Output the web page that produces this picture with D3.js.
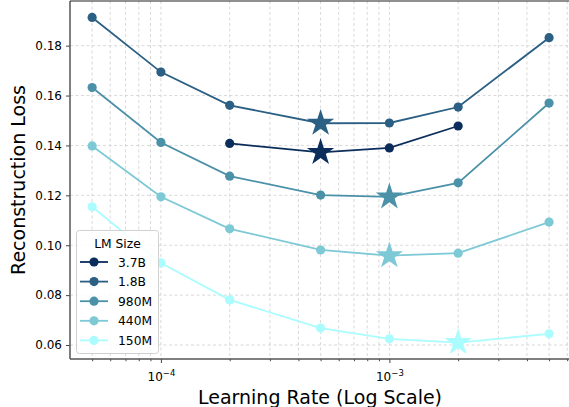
<!DOCTYPE html>
<html><head><meta charset="utf-8">
<script src="https://cdn.jsdelivr.net/npm/d3@7"></script>
<style>body{margin:0;background:#fff}svg{display:block}</style>
</head><body><svg id="c" width="569" height="407"></svg>
<script>
const learningRates = [5e-5, 1e-4, 2e-4, 5e-4, 1e-3, 2e-3, 5e-3];
const seriesNames = ["3.7B", "1.8B", "980M", "440M", "150M"];
const seriesColors = ["#0b2d5b", "#2b5f83", "#4b91a8", "#7dc9d5", "#aafcfe"];
const loss37B = [null, null, 0.1408, 0.1372, 0.1390, 0.1478, null];
const loss18B = [0.1913, 0.1694, 0.1561, 0.1489, 0.1490, 0.1554, 0.1832];
const loss980M = [0.1632, 0.1412, 0.1277, 0.1201, 0.1194, 0.1250, 0.1570];
const loss440M = [0.1398, 0.1194, 0.1066, 0.0981, 0.0958, 0.0968, 0.1093];
const loss150M = [0.1154, 0.0929, 0.0781, 0.0668, 0.0625, 0.0610, 0.0645];
const bestIndex = [3, 3, 4, 4, 5];
const yTicks = [0.06, 0.08, 0.10, 0.12, 0.14, 0.16, 0.18];
const xMajorTicks = [1e-4, 1e-3];

const FONT = "DejaVu Sans";
const allLoss = [loss37B, loss18B, loss980M, loss440M, loss150M];
const svg = d3.select("#c");
const L = 70, R = 572, T = 1, B = 359;
const x = d3.scaleLog().domain([4.0e-5, 6.3e-3]).range([L, R]);
const y = d3.scaleLinear().domain([0.0544, 0.1979]).range([B, T]);

const minorX = [];
for (let e = -5; e <= -2; e++) for (let m = 2; m <= 9; m++) { const v = m * Math.pow(10, e); if (v > 4.0e-5 && v < 6.3e-3) minorX.push(v); }

const grid = svg.append("g").attr("stroke", "#cfcfcf").attr("stroke-width", 0.8).attr("stroke-dasharray", "3,2.5");
grid.selectAll(".vx").data(minorX.concat(xMajorTicks)).join("line")
  .attr("x1", d => x(d)).attr("x2", d => x(d)).attr("y1", T).attr("y2", B);
grid.selectAll(".hy").data(yTicks).join("line")
  .attr("x1", L).attr("x2", R).attr("y1", d => y(d)).attr("y2", d => y(d));

const gx = svg.append("g").attr("transform", `translate(0,${B})`)
  .call(d3.axisBottom(x).tickValues(xMajorTicks).tickSize(4).tickFormat(""));
gx.select(".domain").remove();
gx.selectAll(".tick line").attr("stroke", "#444");
svg.append("g").attr("transform", `translate(0,${B})`)
  .call(d3.axisBottom(x).tickValues(minorX).tickSize(2.2).tickFormat(""))
  .call(g => { g.select(".domain").remove(); g.selectAll(".tick line").attr("stroke", "#444"); });
gx.selectAll(".tick").each(function(d) {
  const t = d3.select(this).append("text").attr("y", 22).attr("fill", "#000").attr("font-size", 12).attr("text-anchor", "middle");
  t.append("tspan").text("10");
  t.append("tspan").attr("dy", -5.5).attr("font-size", 8.5).text("\u2212" + Math.round(-Math.log10(d)));
});

const gy = svg.append("g").attr("transform", `translate(${L},0)`)
  .call(d3.axisLeft(y).tickValues(yTicks).tickSize(4).tickPadding(4).tickFormat(d3.format(".2f")));
gy.select(".domain").remove();
gy.selectAll(".tick line").attr("stroke", "#444");
gy.selectAll(".tick text").attr("font-size", 12).attr("fill", "#000");

svg.append("line").attr("x1", L).attr("x2", L).attr("y1", T).attr("y2", B).attr("stroke", "#555").attr("stroke-width", 1.5);
svg.append("line").attr("x1", L).attr("x2", R).attr("y1", B).attr("y2", B).attr("stroke", "#555").attr("stroke-width", 1.5);
svg.append("line").attr("x1", L).attr("x2", R).attr("y1", T).attr("y2", T).attr("stroke", "#222").attr("stroke-width", 1.2);

const line = d3.line().defined(d => d.v != null).x(d => x(d.lr)).y(d => y(d.v));
const star = d3.symbol().type(d3.symbolStar).size(230);
for (let i = seriesNames.length - 1; i >= 0; i--) {
  const pts = learningRates.map((lr, j) => ({lr, v: allLoss[i][j], j}));
  const g = svg.append("g");
  g.append("path").datum(pts.filter(p => p.v != null)).attr("d", line).attr("fill", "none")
    .attr("stroke", seriesColors[i]).attr("stroke-width", 1.8);
  g.selectAll("circle").data(pts.filter(p => p.v != null && p.j !== bestIndex[i])).join("circle")
    .attr("cx", d => x(d.lr)).attr("cy", d => y(d.v)).attr("r", 4.6).attr("fill", seriesColors[i]);
  const b = pts[bestIndex[i]];
  g.append("path").attr("d", star).attr("transform", `translate(${x(b.lr)},${y(b.v)})`).attr("fill", seriesColors[i]);
}

svg.append("text").attr("x", 320).attr("y", 404).attr("text-anchor", "middle").attr("font-size", 19).text("Learning Rate (Log Scale)");
svg.append("text").attr("transform", `translate(25,180) rotate(-90)`).attr("text-anchor", "middle").attr("font-size", 19).text("Reconstruction Loss");

const lg = svg.append("g");
lg.append("rect").attr("x", 76.5).attr("y", 230.5).attr("width", 82).attr("height", 123).attr("rx", 3)
  .attr("fill", "#fff").attr("fill-opacity", 0.85).attr("stroke", "#d0d0d0");
lg.append("text").attr("x", 117.5).attr("y", 248).attr("text-anchor", "middle").attr("font-size", 12.3).text("LM Size");
seriesNames.forEach((n, i) => {
  const yy = 262 + i * 19.6;
  lg.append("line").attr("x1", 80).attr("x2", 108).attr("y1", yy).attr("y2", yy).attr("stroke", seriesColors[i]).attr("stroke-width", 1.8);
  lg.append("circle").attr("cx", 94).attr("cy", yy).attr("r", 4.6).attr("fill", seriesColors[i]);
  lg.append("text").attr("x", 118).attr("y", yy + 4.5).attr("font-size", 12.3).text(n);
});
svg.selectAll("text").attr("font-family", FONT).style("font-family", FONT);
svg.selectAll("g").attr("font-family", FONT);
</script></body></html>
